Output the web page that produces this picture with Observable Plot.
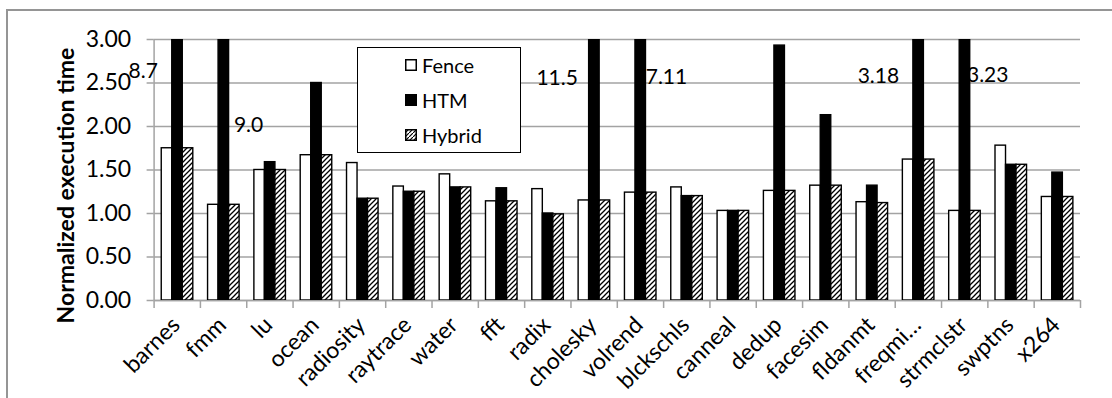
<!DOCTYPE html>
<html>
<head>
<meta charset="utf-8">
<script src="https://cdn.jsdelivr.net/npm/d3@7"></script>
<script src="https://cdn.jsdelivr.net/npm/@observablehq/plot@0.6"></script>
<style>
  html, body { margin: 0; padding: 0; background: #fff; }
  #wrap { position: relative; width: 1112px; height: 398px; overflow: hidden; font-family: Lato, "Open Sans", sans-serif; }
  #frame { position: absolute; left: 6px; top: 9px; width: 1300px; height: 600px;
           border-left: 2px solid #959595; border-top: 2px solid #959595; }
  #chart { position: absolute; left: 0; top: 0; }
  #legend { position: absolute; left: 357px; top: 47px; width: 162px; height: 104px;
            background: #fff; border: 1.5px solid #000; }
  #legend .row { position: absolute; left: 47px; height: 22px; display: flex; align-items: center;
                 font-size: 20px; color: #000; }
  #legend svg { margin-right: 5px; }
</style>
</head>
<body>
<div id="wrap">
  <div id="frame"></div>
  <div id="chart"></div>
  <div id="legend"></div>
</div>
<script>
// Benchmarks along the x axis
const categories = ["barnes", "fmm", "lu", "ocean", "radiosity", "raytrace", "water", "fft", "radix",
  "cholesky", "volrend", "blckschls", "canneal", "dedup", "facesim", "fldanmt", "freqmi…",
  "strmclstr", "swptns", "x264"];

// Normalized execution time per scheme
const fence  = [1.75, 1.10, 1.50, 1.67, 1.58, 1.31, 1.45, 1.14, 1.28, 1.15, 1.24, 1.30, 1.03, 1.26, 1.32, 1.13, 1.62, 1.03, 1.78, 1.19];
const htm    = [8.7, 9.0, 1.59, 2.50, 1.17, 1.25, 1.30, 1.29, 1.00, 11.5, 7.11, 1.20, 1.03, 2.93, 2.13, 1.32, 3.18, 3.23, 1.56, 1.47];
const hybrid = [1.75, 1.10, 1.50, 1.67, 1.17, 1.25, 1.30, 1.14, 0.99, 1.15, 1.24, 1.20, 1.03, 1.26, 1.32, 1.12, 1.62, 1.03, 1.56, 1.19];

const seriesNames = ["Fence", "HTM", "Hybrid"];
const yTicks = [0, 0.5, 1, 1.5, 2, 2.5, 3];
const yMax = 3;
const yTitle = "Normalized execution time";

// ---- layout ----
const GRAY = "#a3a3a3";
const TICK_FONT = 23;
const VALUE_FONT = 21;
const groupStart = 0.165;   // fraction of a category slot before the first bar
const barW = 0.227;         // fraction of a category slot per bar

const series = [
  {name: seriesNames[0], values: fence,  fill: "#fff"},
  {name: seriesNames[1], values: htm,    fill: "#000"},
  {name: seriesNames[2], values: hybrid, fill: "url(#hatch)"}
];

function rowsFor(s, j) {
  return categories.map((c, i) => ({category: c, i, value: s.values[i], slot: j}));
}

// Text shown above clipped HTM bars
const fmtVal = v => (v % 1 === 0 ? v.toFixed(1) : String(v));
const overflow = categories.map((c, i) => ({category: c, i, value: htm[i]})).filter(d => d.value > yMax);
// where each overflow label sits relative to its category (px)
const labelPlace = {
  "barnes": [-34, 23.5], "fmm": [25, 78], "cholesky": [-37, 31],
  "volrend": [26, 30], "freqmi…": [-40, 28.5], "strmclstr": [23, 27.5]
};

// hatch pattern definition for the Hybrid bars
function hatchDefs() {
  const ns = "http://www.w3.org/2000/svg";
  const defs = document.createElementNS(ns, "defs");
  defs.innerHTML = `<pattern id="hatch" patternUnits="userSpaceOnUse" width="5" height="5">
      <rect width="5" height="5" fill="#fff"/>
      <path d="M-1,6 L6,-1 M-1,1 L1,-1 M4,6 L6,4" stroke="#000" stroke-width="1.3"/>
    </pattern>`;
  return defs;
}

const marks = [
  hatchDefs,
  Plot.gridY(yTicks, {stroke: GRAY, strokeOpacity: 1, strokeWidth: 1.5}),
  Plot.axisY({ticks: yTicks, tickFormat: d3.format(".2f"), tickSize: 7, tickPadding: 16,
              stroke: GRAY, strokeWidth: 1.5, fill: "#000", label: null, fontSize: TICK_FONT}),
  Plot.axisX({ticks: d3.range(categories.length + 1), tickSize: 8, tickFormat: () => "",
              stroke: GRAY, strokeWidth: 1.5, label: null}),
  Plot.ruleX([0], {stroke: GRAY, strokeWidth: 1.5}),
  Plot.ruleY([0], {stroke: GRAY, strokeWidth: 1.5}),
  ...series.map((s, j) => Plot.rectY(rowsFor(s, j), {
    x1: d => d.i + groupStart + d.slot * barW,
    x2: d => d.i + groupStart + (d.slot + 1) * barW,
    y1: 0,
    y2: "value",
    fill: s.fill,
    stroke: "#000",
    strokeWidth: 1.4,
    clip: true
  })),
  Plot.text(categories, {
    x: (d, i) => i + 0.5,
    frameAnchor: "bottom",
    text: d => d,
    rotate: -45,
    textAnchor: "end",
    dx: 4,
    dy: 26,
    fontSize: TICK_FONT,
    fill: "#000"
  }),
  ...overflow.map(d => Plot.text([d], {
    x: d => d.i + 0.5,
    frameAnchor: "top",
    text: d => fmtVal(d.value),
    dx: labelPlace[d.category][0],
    dy: labelPlace[d.category][1],
    fontSize: VALUE_FONT,
    fill: "#000"
  })),
  Plot.text([yTitle], {
    frameAnchor: "left",
    rotate: -90,
    textAnchor: "middle",
    dx: -87,
    dy: 15.5,
    fontSize: 23,
    fontWeight: "bold",
    fill: "#000"
  })
];

const chart = Plot.plot({
  width: 1112,
  height: 398,
  marginLeft: 153.6,
  marginRight: 32,
  marginTop: 39,
  marginBottom: 98,
  style: {fontFamily: "Lato, 'Open Sans', sans-serif", fontSize: TICK_FONT + "px", background: "transparent", overflow: "visible"},
  x: {type: "linear", domain: [0, categories.length]},
  y: {domain: [0, yMax]},
  marks
});
document.getElementById("chart").appendChild(chart);

// legend box
const legend = document.getElementById("legend");
const swatch = s => {
  const fill = s.fill.startsWith("url") ? "url(#hatchL)" : s.fill;
  return `<svg width="12" height="12" viewBox="0 0 12 12">
    <defs><pattern id="hatchL" patternUnits="userSpaceOnUse" width="4" height="4">
      <rect width="4" height="4" fill="#fff"/>
      <path d="M-1,5 L5,-1" stroke="#000" stroke-width="1.2"/></pattern></defs>
    <rect x="0.75" y="0.75" width="10.5" height="10.5" fill="${fill}" stroke="#000" stroke-width="1.5"/></svg>`;
};
const rowTops = [6, 41, 76];
series.forEach((s, k) => {
  const row = document.createElement("div");
  row.className = "row";
  row.style.top = rowTops[k] + "px";
  row.innerHTML = swatch(s) + `<span>${s.name}</span>`;
  legend.appendChild(row);
});
</script>
</body>
</html>
